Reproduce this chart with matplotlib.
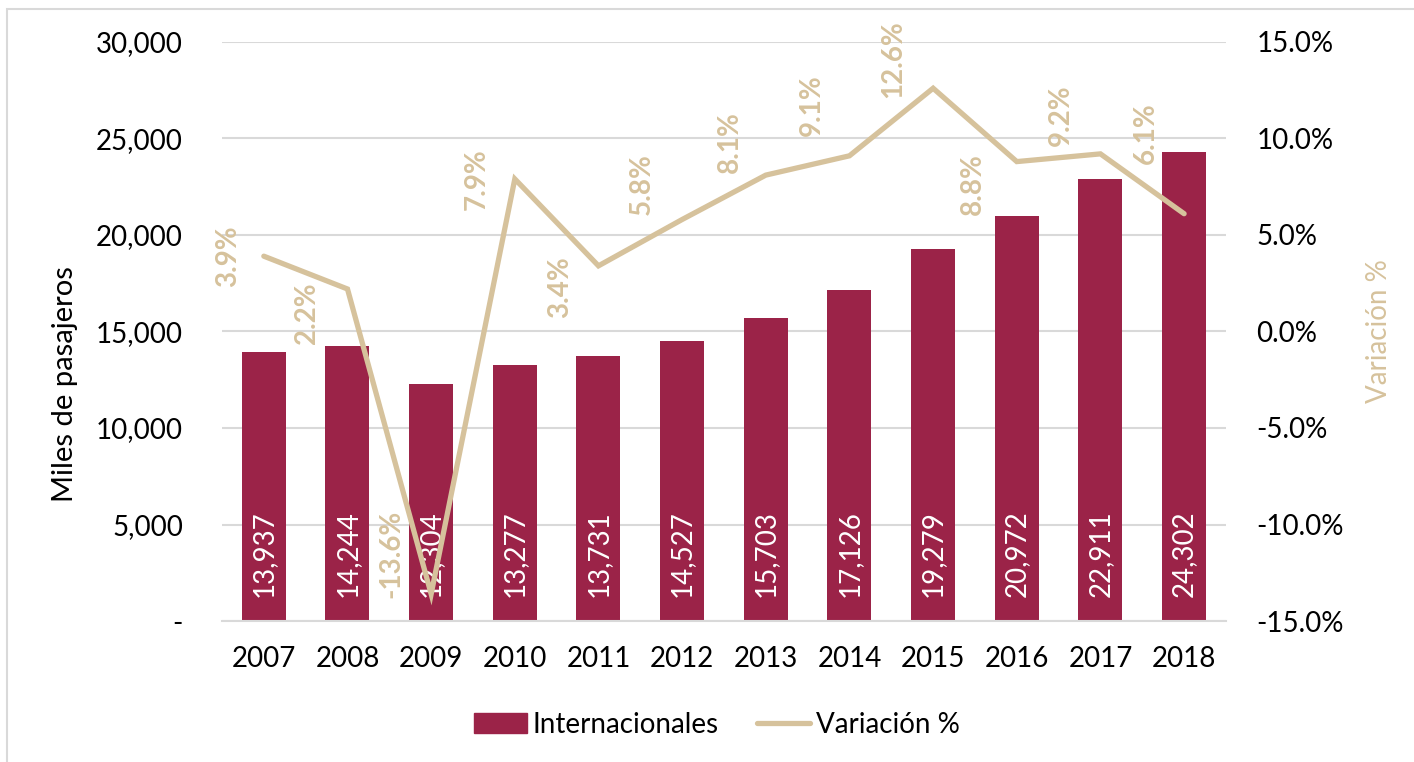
import numpy as np
import matplotlib
matplotlib.use("Agg")
import matplotlib.pyplot as plt
from matplotlib.ticker import FuncFormatter
from matplotlib.patches import Rectangle
from matplotlib.lines import Line2D

plt.rcParams['font.family'] = ['Lato', 'DejaVu Sans']

# --- Datos ---
anios = ["2007", "2008", "2009", "2010", "2011", "2012",
         "2013", "2014", "2015", "2016", "2017", "2018"]
internacionales = [13937, 14244, 12304, 13277, 13731, 14527,
                   15703, 17126, 19279, 20972, 22911, 24302]
variacion = [3.9, 2.2, -13.6, 7.9, 3.4, 5.8, 8.1, 9.1, 12.6, 8.8, 9.2, 6.1]

# desplazamiento de las etiquetas de variación (pixeles)
desp_etiquetas = [(-36, 0), (-40, -24), (-40, 40), (-38, 0), (-38, -21), (-40, 35),
                  (-36, 33), (-38, 51), (-40, 29), (-44, -22), (-40, 39), (-38, 81)]

color_barra = "#9B2348"
color_linea = "#D6C29C"
color_grid = "#D9D9D9"

fig = plt.figure(figsize=(14.14, 7.62), dpi=100)
ax = fig.add_axes([0.157, 0.185, 0.710, 0.760])
ax2 = ax.twinx()

x = np.arange(len(anios))

# --- Barras ---
barras = ax.bar(x, internacionales, width=0.526, color=color_barra, zorder=2)
for xi, val in zip(x, internacionales):
    ax.annotate(f"{val:,}", xy=(xi, 0), xytext=(0, 24), textcoords="offset pixels",
                rotation=90, ha="center", va="bottom", color="white", fontsize=20, zorder=3)

ax.set_ylim(0, 30000)
ax.set_yticks(np.arange(0, 30001, 5000))
ax.yaxis.set_major_formatter(FuncFormatter(lambda v, p: "-" if v == 0 else f"{v:,.0f}"))
ax.set_xlim(-0.5, len(anios) - 0.5)
ax.set_xticks(x)
ax.set_xticklabels(anios)
ax.grid(axis="y", color=color_grid, linewidth=1.5, zorder=0)
ax.set_axisbelow(True)
for s in ["top", "right", "left"]:
    ax.spines[s].set_visible(False)
ax.spines["bottom"].set_color(color_grid)
ax.spines["bottom"].set_linewidth(1.5)
ax.tick_params(axis="both", length=0, labelsize=20)
ax.tick_params(axis="x", pad=18)
ax.tick_params(axis="y", pad=28)
ax.set_ylabel("Miles de pasajeros", fontsize=21)
ax.yaxis.set_label_coords(-0.143, 0.41)

# --- Línea de variación ---
ax2.plot(x, variacion, color=color_linea, linewidth=3.8, solid_capstyle="round",
         solid_joinstyle="miter", zorder=4)
for xi, v, (dx, dy) in zip(x, variacion, desp_etiquetas):
    ax2.annotate(f"{v:.1f}%", xy=(xi, v), xytext=(dx, dy), textcoords="offset pixels",
                 rotation=90, ha="center", va="center", color=color_linea,
                 fontsize=20, fontweight="bold")

ax2.set_ylim(-15, 15)
ax2.set_yticks(np.arange(-15, 15.1, 5))
ax2.yaxis.set_major_formatter(FuncFormatter(lambda v, p: f"{v:.1f}%"))
for s in ["top", "right", "left", "bottom"]:
    ax2.spines[s].set_visible(False)
ax2.tick_params(axis="y", length=0, labelsize=20, pad=22)
ax2.set_ylabel("Variación %", fontsize=20, color=color_linea)
ax2.yaxis.set_label_coords(1.14, 0.5)

# --- Leyenda ---
handles = [Rectangle((0, 0), 1, 1, color=color_barra),
           Line2D([0], [0], color=color_linea, linewidth=3.8, solid_capstyle="round")]
fig.legend(handles, ["Internacionales", "Variación %"], loc="center",
           bbox_to_anchor=(0.507, 0.049), ncol=2, frameon=False, fontsize=20,
           handlelength=1.9, handleheight=0.72, handletextpad=0.2, columnspacing=1.4)

# marco del gráfico
fig.patches.append(Rectangle((0.005, -0.1), 1.2, 1.088, transform=fig.transFigure,
                             fill=False, edgecolor=color_grid, linewidth=1.5))

fig.savefig("out.png", dpi=100)
